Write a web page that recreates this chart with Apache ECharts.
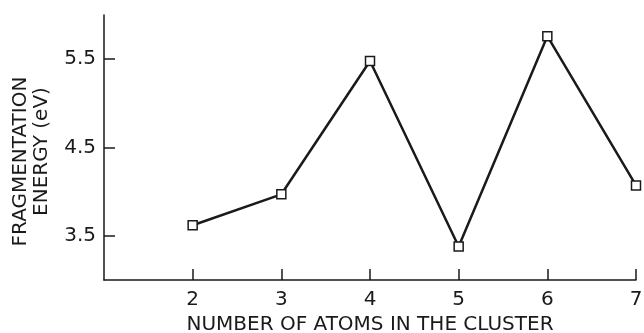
<!DOCTYPE html>
<html>
<head>
<meta charset="utf-8">
<script src="https://cdn.jsdelivr.net/npm/echarts@6/dist/echarts.min.js"></script>
<style>
html, body { margin: 0; padding: 0; background: #fff; }
#chart { width: 644px; height: 333px; }
</style>
</head>
<body>
<div id="chart"></div>
<script>
// cluster size vs fragmentation energy
var atoms = [2, 3, 4, 5, 6, 7];
var energy = [3.62, 3.97, 5.48, 3.38, 5.76, 4.07];
var xTicks = [2, 3, 4, 5, 6, 7];
var yTicks = [3.5, 4.5, 5.5];

var points = [];
for (var i = 0; i < atoms.length; i++) {
	points.push([atoms[i], energy[i]]);
}

var font = 'DejaVu Sans';
var ink = '#1a1a1a';

var myChart = echarts.init(document.getElementById('chart'));
var option = {
	animation: false,
	grid: {
		left: 104,
		right: 8,
		top: 15,
		bottom: 53,
		outerBoundsMode: 'none'
	},
	xAxis: {
		type: 'value',
		min: 1,
		max: 7,
		name: 'NUMBER OF ATOMS IN THE CLUSTER',
		nameLocation: 'middle',
		nameGap: 35,
		nameTextStyle: { fontFamily: font, fontSize: 20, color: ink },
		axisLine: { lineStyle: { color: ink, width: 1.5 } },
		axisTick: { inside: true, length: 11, customValues: xTicks, lineStyle: { color: ink, width: 1.5 } },
		axisLabel: { customValues: xTicks, fontFamily: font, fontSize: 20, color: ink, margin: 10 },
		splitLine: { show: false }
	},
	yAxis: {
		type: 'value',
		min: 3,
		max: 6,
		name: '{a|FRAGMENTATION}\n{b|ENERGY (eV)}',
		nameLocation: 'middle',
		nameRotate: 90,
		nameGap: 52,
		nameTextStyle: {
			fontFamily: font, fontSize: 20, color: ink, lineHeight: 21,
			rich: {
				a: { fontFamily: font, fontSize: 20, color: ink, lineHeight: 21, padding: [0, 28, 0, 0] },
				b: { fontFamily: font, fontSize: 20, color: ink, lineHeight: 21, padding: [0, 8, 0, 0] }
			}
		},
		axisLine: { show: true, lineStyle: { color: ink, width: 1.5 } },
		axisTick: { show: true, inside: true, length: 11, customValues: yTicks, lineStyle: { color: ink, width: 1.5 } },
		axisLabel: {
			customValues: yTicks,
			fontFamily: font, fontSize: 20, color: ink, margin: 8,
			formatter: function (v) { return v.toFixed(1); }
		},
		splitLine: { show: false }
	},
	series: [
		{
			type: 'line',
			data: points,
			symbol: 'rect',
			symbolSize: 9,
			lineStyle: { color: ink, width: 2.5 },
			itemStyle: { color: '#fff', borderColor: ink, borderWidth: 1.5 }
		}
	]
};
myChart.setOption(option);
</script>
</body>
</html>
